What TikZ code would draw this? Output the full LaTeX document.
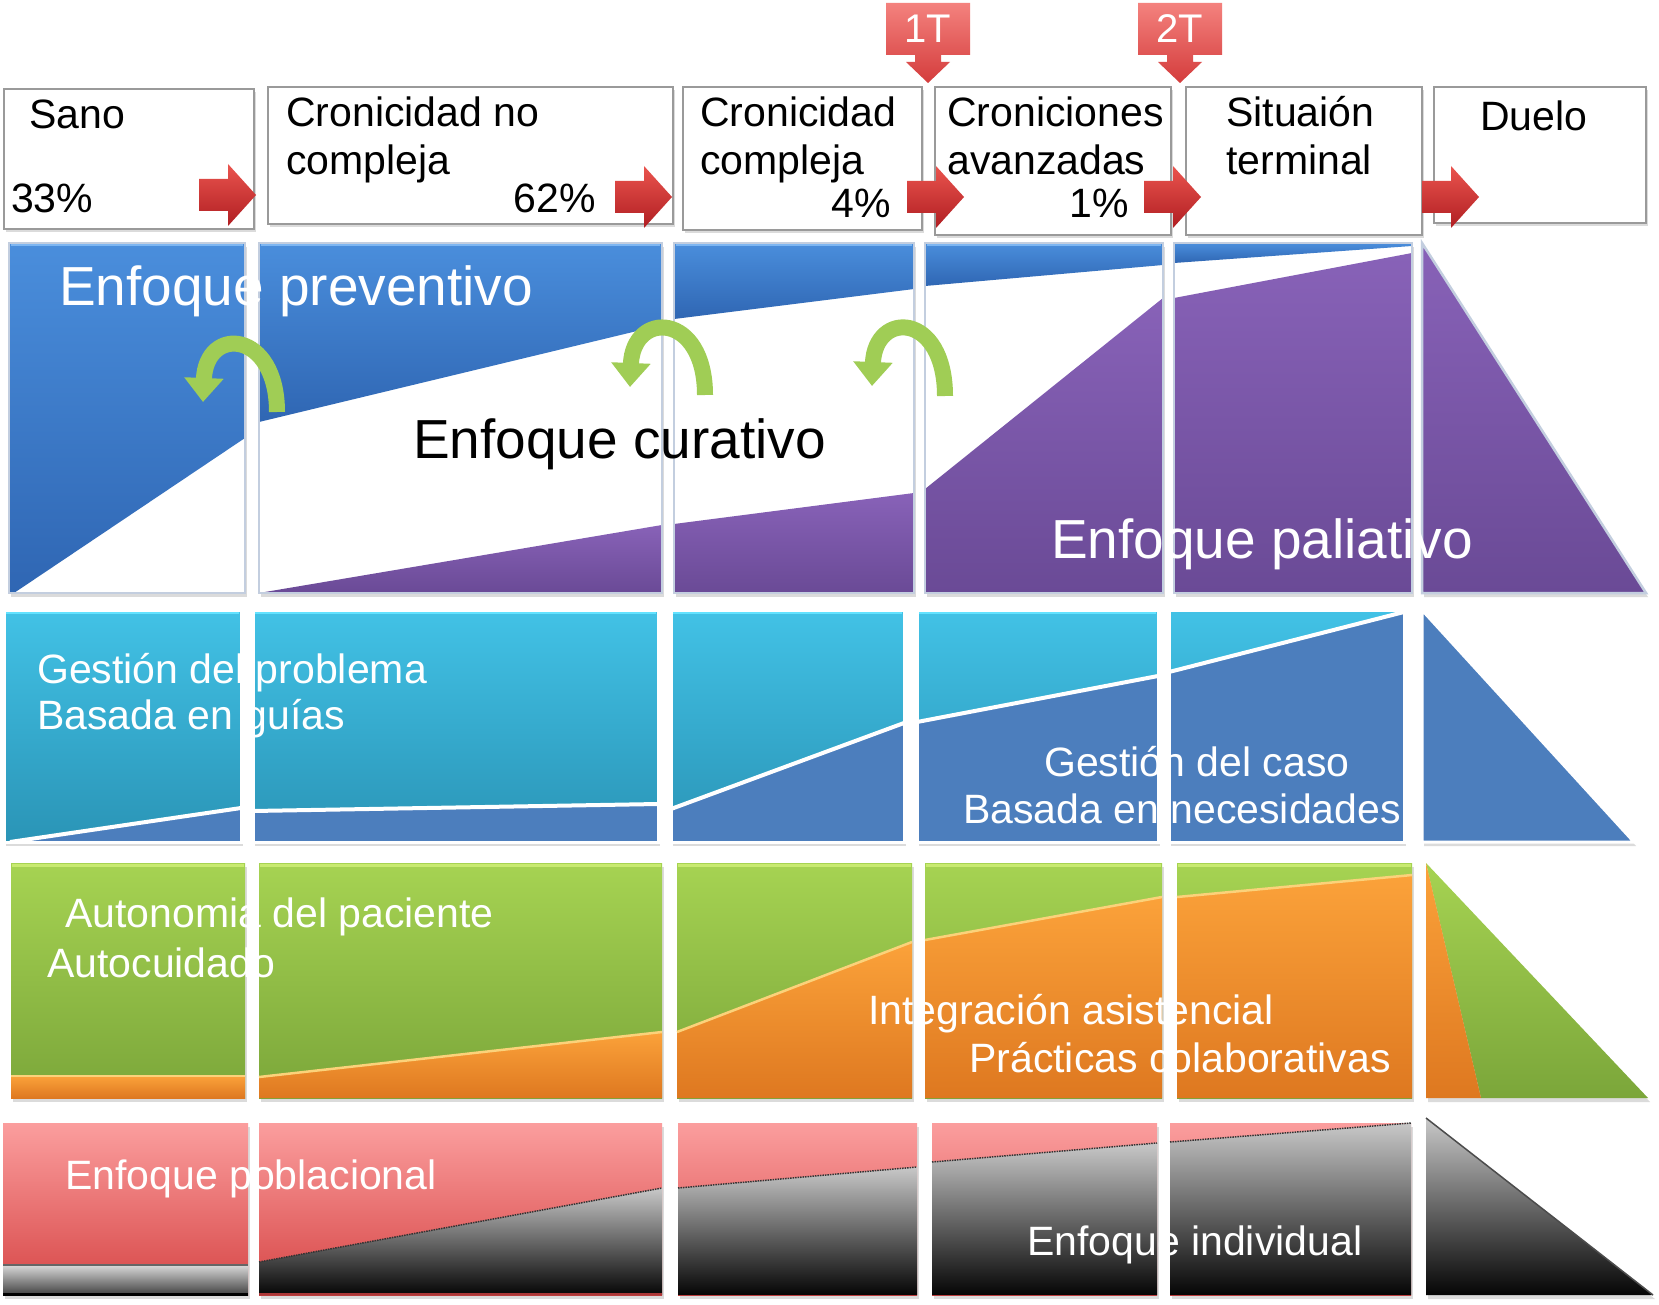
\documentclass[tikz,border=0pt]{standalone}
\usepackage{fontspec}
\setmainfont{Liberation Sans}
\usetikzlibrary{arrows.meta}
\definecolor{bluetop}{HTML}{4A8EDC}
\definecolor{bluebot}{HTML}{2F66B3}
\definecolor{bluehi}{HTML}{7DB6F2}
\definecolor{purtop}{HTML}{8862B8}
\definecolor{purbot}{HTML}{6A4A96}
\definecolor{cyantop}{HTML}{42C2E6}
\definecolor{cyanbot}{HTML}{2A94B6}
\definecolor{cyanhi}{HTML}{62E2FF}
\definecolor{steel}{HTML}{4C7EBD}
\definecolor{greentop}{HTML}{A6D352}
\definecolor{greenbot}{HTML}{7BA63A}
\definecolor{greenhi}{HTML}{C8EA70}
\definecolor{orangetop}{HTML}{FBA23A}
\definecolor{orangebot}{HTML}{DE7820}
\definecolor{orangeline}{HTML}{FBD27A}
\definecolor{pinktop}{HTML}{FB9E9E}
\definecolor{pinkbot}{HTML}{D64545}
\definecolor{graytop}{HTML}{C8C8C8}
\definecolor{graybot}{HTML}{050505}
\definecolor{arrowtop}{HTML}{EA544E}
\definecolor{arrowbot}{HTML}{B01E22}
\definecolor{calltop}{HTML}{F4827E}
\definecolor{callbot}{HTML}{D43C3C}
\definecolor{curvegreen}{HTML}{A0CD55}
\definecolor{boxline}{HTML}{9A9A9A}
\definecolor{colline}{HTML}{C3CEDF}

\tikzset{
 bigtxt/.style={inner sep=0pt, anchor=base west, font=\fontsize{55}{60}\selectfont},
 midtxt/.style={inner sep=0pt, anchor=base west, font=\fontsize{41}{48}\selectfont},
 wtxt/.style={text=white},
 topbox/.style={draw=boxline, line width=2.5pt, fill=white},
 shadowfill/.style={fill=black!14},
 colborder/.style={draw=colline, line width=2.5pt},
 curvearrow/.style={draw=curvegreen, line width=16pt, -{Triangle[width=38pt,length=24pt]}},
 redarrow/.pic={\shade[top color=arrowtop, bottom color=arrowbot] (0,-16) -- (29,-16) -- (29,-31) -- (57,0) -- (29,31) -- (29,16) -- (0,16) -- cycle;},
 tcallout/.pic={\shade[top color=calltop, bottom color=callbot] (-42,0) -- (42,0) -- (42,52) -- (13,52) -- (13,59) -- (22,59) -- (0,80) -- (-22,59) -- (-13,59) -- (-13,52) -- (-42,52) -- cycle;}
}
\newcommand\mycolumn[6]{%
 \fill[shadowfill] (#1+2,#2+4) rectangle (#3+2,#4+4);
 \shade[top color=#5, bottom color=#6] (#1,#2) rectangle (#3,#4);}

\begin{document}
\begin{tikzpicture}[x=1pt,y=-1pt]
\useasboundingbox (0,0) rectangle (1659,1305);
\fill[white] (0,0) rectangle (1659,1305);

% ---------- top boxes ----------
\foreach \a/\b/\c/\d in {4/89/254/229, 268/87/673/224, 683/87/922/230, 935/87/1171/235, 1186/87/1422/235, 1434/87/1646/223}{
 \fill[shadowfill] (\a+2,\b+3) rectangle (\c+2,\d+3);
 \draw[topbox] (\a,\b) rectangle (\c,\d);
}
\pic at (199,195) {redarrow};
\pic at (615,197) {redarrow};
\pic at (907,197) {redarrow};
\pic at (1144,197) {redarrow};
\pic at (1422,197) {redarrow};
\pic at (928,3) {tcallout};
\pic at (1180,3) {tcallout};
\node[inner sep=0pt, anchor=base, text=white, font=\fontsize{40}{44}\selectfont] (t1T) at (928,43) {1T};
\node[inner sep=0pt, anchor=base, text=white, font=\fontsize{40}{44}\selectfont] (t2T) at (1180,43) {2T};

\node[midtxt] (tsano) at (29,129) {Sano};
\node[midtxt] (tp33) at (11,213) {33\%};
\node[midtxt] (tcnc1) at (286,127) {Cronicidad no};
\node[midtxt] (tcnc2) at (286,175) {compleja};
\node[midtxt, anchor=base east] (tp62) at (596,213) {62\%};
\node[midtxt] (tcc1) at (700,127) {Cronicidad};
\node[midtxt] (tcc2) at (700,175) {compleja};
\node[midtxt, anchor=base east] (tp4) at (891,218) {4\%};
\node[midtxt] (tca1) at (947,127) {Croniciones};
\node[midtxt] (tca2) at (947,175) {avanzadas};
\node[midtxt, anchor=base east] (tp1) at (1129,218) {1\%};
\node[midtxt] (tst1) at (1226,127) {Situaión};
\node[midtxt] (tst2) at (1226,175) {terminal};
\node[midtxt] (tduelo) at (1480,131) {Duelo};

% ---------- row 1 ----------
\mycolumn{9}{243}{245}{593}{white}{white}
\shade[top color=bluetop, bottom color=bluebot] (9,243) -- (245,243) -- (245,438) -- (14,593) -- (9,593) -- cycle;
\mycolumn{259}{243}{662}{593}{white}{white}
\shade[top color=bluetop, bottom color=bluebot] (259,243) -- (662,243) -- (662,325) -- (259,422) -- cycle;
\shade[top color=purtop, bottom color=purbot] (259,593) -- (662,525) -- (662,593) -- cycle;
\mycolumn{674}{243}{914}{593}{white}{white}
\shade[top color=bluetop, bottom color=bluebot] (674,243) -- (914,243) -- (914,289) -- (674,319) -- cycle;
\shade[top color=purtop, bottom color=purbot] (674,524) -- (914,493) -- (914,593) -- (674,593) -- cycle;
\mycolumn{925}{243}{1163}{593}{white}{white}
\shade[top color=bluetop, bottom color=bluebot] (925,243) -- (1163,243) -- (1163,265) -- (925,286) -- cycle;
\shade[top color=purtop, bottom color=purbot] (925,489) -- (1163,298) -- (1163,593) -- (925,593) -- cycle;
\mycolumn{1174}{243}{1412}{593}{white}{white}
\shade[top color=bluetop, bottom color=bluebot] (1174,243) -- (1412,243) -- (1412,246) -- (1174,263) -- cycle;
\shade[top color=purtop, bottom color=purbot] (1174,298) -- (1412,253) -- (1412,593) -- (1174,593) -- cycle;
\foreach \a/\c in {9/245, 259/662, 674/914, 925/1163}{
 \draw[bluehi, line width=3pt] (\a+2,245) -- (\c-2,245);
}
\foreach \a/\c in {9/245, 259/662, 674/914, 925/1163, 1174/1412}{
 \draw[colborder] (\a,243) rectangle (\c,593);
}
\fill[shadowfill] (1424,247) -- (1424,597) -- (1648,597) -- cycle;
\shade[top color=purtop, bottom color=purbot] (1422,243) -- (1422,593) -- (1646,593) -- cycle;
\draw[colborder] (1422,243) -- (1422,593) -- (1646,593) -- cycle;

\draw[curvearrow] (277,412) .. controls (277,330) and (206,325) .. (203,402);
\draw[curvearrow] (705,395) .. controls (705,312) and (633,310) .. (630,387);
\draw[curvearrow] (945,396) .. controls (945,312) and (875,310) .. (872,386);

\node[bigtxt, wtxt] (lprev) at (59,306) {Enfoque preventivo};
\node[bigtxt] (lcur) at (413,458) {Enfoque curativo};
\node[bigtxt, wtxt] (lpal) at (1051,558) {Enfoque paliativo};

% ---------- row 2 ----------
\mycolumn{4}{610}{241}{842}{cyantop}{cyanbot}
\fill[steel] (10,842) -- (241,808) -- (241,842) -- cycle;
\draw[white, line width=4pt] (10,842) -- (241,808);
\mycolumn{253}{610}{658}{842}{cyantop}{cyanbot}
\fill[steel] (253,811) -- (658,804) -- (658,842) -- (253,842) -- cycle;
\draw[white, line width=4pt] (253,811) -- (658,804);
\mycolumn{671}{610}{904}{842}{cyantop}{cyanbot}
\fill[steel] (671,809) -- (904,723) -- (904,842) -- (671,842) -- cycle;
\draw[white, line width=4pt] (671,809) -- (904,723);
\mycolumn{917}{610}{1158}{842}{cyantop}{cyanbot}
\fill[steel] (917,722) -- (1158,676) -- (1158,842) -- (917,842) -- cycle;
\draw[white, line width=4pt] (917,722) -- (1158,676);
\mycolumn{1169}{610}{1404}{842}{cyantop}{cyanbot}
\fill[steel] (1169,672) -- (1404,612) -- (1404,842) -- (1169,842) -- cycle;
\draw[white, line width=4pt] (1169,672) -- (1404,612);
\foreach \a/\c in {4/241, 253/658, 671/904, 917/1158}{
 \draw[cyanhi, line width=3pt] (\a+2,612) -- (\c-2,612);
}
\foreach \a/\c in {4/241, 253/658, 671/904, 917/1158, 1169/1404}{
 \draw[white, line width=3pt] (\a,610) rectangle (\c,842);
}
\fill[shadowfill] (1424,614) -- (1424,846) -- (1636,846) -- cycle;
\fill[steel] (1422,610) -- (1422,842) -- (1634,842) -- cycle;
\draw[white, line width=3pt] (1422,610) -- (1422,842) -- (1634,842) -- cycle;

\node[midtxt, wtxt] (lgp1) at (37,683) {Gestión del problema};
\node[midtxt, wtxt] (lgp2) at (37,729) {Basada en guías};
\node[midtxt, wtxt] (lgc1) at (1044,776) {Gestión del caso};
\node[midtxt, wtxt] (lgc2) at (963,823) {Basada en necesidades};

% ---------- row 3 ----------
\mycolumn{11}{863}{245}{1098}{greentop}{greenbot}
\shade[top color=orangetop, bottom color=orangebot] (11,1076) -- (245,1076) -- (245,1098) -- (11,1098) -- cycle;
\draw[orangeline, line width=2.5pt] (11,1076) -- (245,1076);
\mycolumn{259}{863}{662}{1098}{greentop}{greenbot}
\shade[top color=orangetop, bottom color=orangebot] (259,1077) -- (662,1032) -- (662,1098) -- (259,1098) -- cycle;
\draw[orangeline, line width=2.5pt] (259,1077) -- (662,1032);
\mycolumn{677}{863}{912}{1098}{greentop}{greenbot}
\shade[top color=orangetop, bottom color=orangebot] (677,1032) -- (912,942) -- (912,1098) -- (677,1098) -- cycle;
\draw[orangeline, line width=2.5pt] (677,1032) -- (912,942);
\mycolumn{925}{863}{1162}{1098}{greentop}{greenbot}
\shade[top color=orangetop, bottom color=orangebot] (925,940) -- (1162,897) -- (1162,1098) -- (925,1098) -- cycle;
\draw[orangeline, line width=2.5pt] (925,940) -- (1162,897);
\mycolumn{1177}{863}{1412}{1098}{greentop}{greenbot}
\shade[top color=orangetop, bottom color=orangebot] (1177,897) -- (1412,875) -- (1412,1098) -- (1177,1098) -- cycle;
\draw[orangeline, line width=2.5pt] (1177,897) -- (1412,875);
\foreach \a/\c in {11/245, 259/662, 677/912, 925/1162, 1177/1412}{
 \draw[greenhi, line width=3pt] (\a+1,865) -- (\c-1,865);
}
\fill[shadowfill] (1428,867) -- (1650,1102) -- (1428,1102) -- cycle;
\shade[top color=greentop, bottom color=greenbot] (1426,863) -- (1648,1098) -- (1481,1098) -- cycle;
\shade[top color=orangetop, bottom color=orangebot] (1426,863) -- (1481,1098) -- (1426,1098) -- cycle;

\node[midtxt, wtxt] (lap1) at (65,927) {Autonomia del paciente};
\node[midtxt, wtxt] (lap2) at (47,977) {Autocuidado};
\node[midtxt, wtxt] (lia1) at (868,1024) {Integración asistencial};
\node[midtxt, wtxt] (lia2) at (969,1072) {Prácticas colaborativas};

% ---------- row 4 ----------
\mycolumn{3}{1123}{248}{1295}{pinktop}{pinkbot}
\shade[top color=black!15, bottom color=black!75] (3,1265) -- (248,1265) -- (248,1295) -- (3,1295) -- cycle;
\draw[black!60, line width=1.5pt] (3,1265) -- (248,1265);
\draw[black, line width=3pt] (3,1294) -- (248,1294);
\mycolumn{259}{1123}{662}{1295}{pinktop}{pinkbot}
\shade[top color=graytop, bottom color=graybot] (259,1262) -- (662,1188) -- (662,1295) -- (259,1295) -- cycle;
\draw[black!80, line width=1.5pt, densely dotted] (259,1262) -- (662,1188);
\draw[pinkbot!80!black, line width=2.5pt] (259,1294) -- (662,1294);
\mycolumn{678}{1123}{917}{1295}{pinktop}{pinkbot}
\shade[top color=graytop, bottom color=graybot] (678,1188) -- (917,1167) -- (917,1295) -- (678,1295) -- cycle;
\draw[black!80, line width=1.5pt, densely dotted] (678,1188) -- (917,1167);
\mycolumn{932}{1123}{1157}{1295}{pinktop}{pinkbot}
\shade[top color=graytop, bottom color=graybot] (932,1162) -- (1157,1143) -- (1157,1295) -- (932,1295) -- cycle;
\draw[black!80, line width=1.5pt, densely dotted] (932,1162) -- (1157,1143);
\mycolumn{1170}{1123}{1411}{1295}{pinktop}{pinkbot}
\shade[top color=graytop, bottom color=graybot] (1170,1142) -- (1411,1123) -- (1411,1295) -- (1170,1295) -- cycle;
\draw[black!80, line width=1.5pt, densely dotted] (1170,1142) -- (1411,1123);
\fill[shadowfill] (1428,1122) -- (1428,1299) -- (1655,1299) -- cycle;
\shade[top color=graytop, bottom color=graybot] (1426,1118) -- (1426,1295) -- (1653,1295) -- cycle;
\draw[black!70, line width=1.5pt] (1426,1118) -- (1653,1295);

\node[midtxt, wtxt] (lep) at (65,1189) {Enfoque poblacional};
\node[midtxt, wtxt] (lei) at (1027,1255) {Enfoque individual};
\end{tikzpicture}
\end{document}
